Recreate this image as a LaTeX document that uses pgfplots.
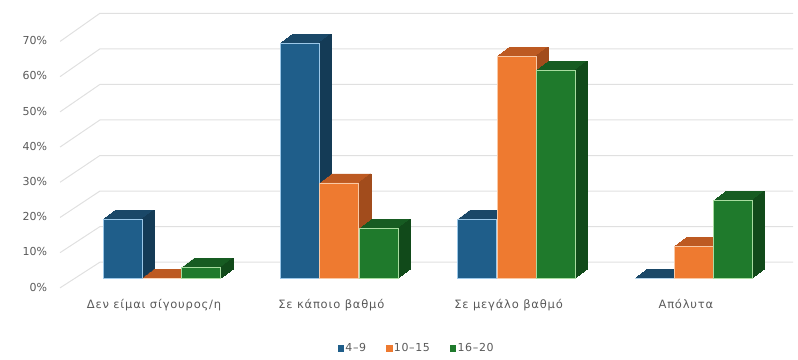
\documentclass[border=0pt]{standalone}
\usepackage{pgfplots}
\pgfplotsset{compat=1.18}
\usepackage{pgfplotstable}
\usepackage{fontspec}
\setmainfont{DejaVu Sans}
\newfontfamily\catfont[LetterSpace=7]{DejaVu Sans}
\newfontfamily\legfont[LetterSpace=6]{DejaVu Sans}
\definecolor{bF}{HTML}{1F5E8A}
\definecolor{bT}{HTML}{1A4868}
\definecolor{bS}{HTML}{143B56}
\definecolor{bE}{HTML}{9CC8E8}
\definecolor{oF}{HTML}{EE7A30}
\definecolor{oT}{HTML}{BD5A22}
\definecolor{oS}{HTML}{A24C1C}
\definecolor{oE}{HTML}{F9C9A6}
\definecolor{gF}{HTML}{1F7A2C}
\definecolor{gT}{HTML}{175C22}
\definecolor{gS}{HTML}{114A1A}
\definecolor{gE}{HTML}{A8DCA0}
\definecolor{gridc}{HTML}{E0E0E0}
\definecolor{txt}{HTML}{595959}

\pgfplotstableread{
x b o g
0 16.7 0 3
1 66.7 27 14
2 16.7 63 59
3 0 9 22
}\data

\begin{document}
\begin{tikzpicture}
\path[use as bounding box] (0,0) rectangle (798pt,359pt);
\begin{axis}[
 at={(55.62pt,70.44pt)}, anchor=south west,
 x=177.3pt, y=3.52pt,
 xmin=-0.6, xmax=3.6, ymin=-3, ymax=76,
 clip=false,
 axis line style={draw=none}, tick style={draw=none},
 xtick={0,1,2,3},
 xticklabels={Δεν είμαι σίγουρος/η, Σε κάποιο βαθμό, Σε μεγάλο βαθμό, Απόλυτα},
 xticklabel style={xshift=-8pt, yshift=-7.5pt, font=\catfont\fontsize{11.5}{13}\selectfont, text=txt},
 ytick={0,10,...,70},
 yticklabels={0\%,10\%,20\%,30\%,40\%,50\%,60\%,70\%},
 yticklabel style={xshift=-5pt, yshift=-9pt, font=\fontsize{11}{12}\selectfont, text=txt},
 legend columns=3,
 legend style={draw=none, fill=none, at={(0.485,-0.2136)}, anchor=center,
   font=\legfont\fontsize{11}{12}\selectfont, text=txt,
   /tikz/every even column/.append style={column sep=18pt}},
]
\pgfplotsinvokeforeach{0,10,...,70}{
 \draw[gridc, line width=1pt]
   (axis cs:-0.575,#1-2.8) -- (axis cs:-0.35,{1.01*#1+4.5}) -- (axis cs:3.56,{1.01*#1+4.5});
}
% ---- blue series 4-9
\pgfplotsinvokeforeach{1,...,12}{
 \addplot[forget plot, ybar, bar width=39pt, bar shift=-39.3pt, fill=bT, draw=bT, line width=0.6pt, xshift=#1pt, yshift={0.75*#1pt}] table[x=x,y=b]{\data};
}
\pgfplotsinvokeforeach{1,...,12}{
 \addplot[forget plot, ybar, bar width=1pt, bar shift=-20.3pt, fill=bS, draw=bS, line width=0.6pt, xshift=#1pt, yshift={0.75*#1pt}] table[x=x,y=b]{\data};
}
\addplot[forget plot, ybar, bar width=39pt, bar shift=-39.3pt, fill=bF, draw=bE, line width=0.8pt] table[x=x,y=b]{\data};
% ---- orange series 10-15
\pgfplotsinvokeforeach{1,...,12}{
 \addplot[forget plot, ybar, bar width=39pt, bar shift=0pt, fill=oT, draw=oT, line width=0.6pt, xshift=#1pt, yshift={0.75*#1pt}] table[x=x,y=o]{\data};
}
\pgfplotsinvokeforeach{1,...,12}{
 \addplot[forget plot, ybar, bar width=1pt, bar shift=19pt, fill=oS, draw=oS, line width=0.6pt, xshift=#1pt, yshift={0.75*#1pt}] table[x=x,y=o]{\data};
}
\addplot[forget plot, ybar, bar width=39pt, bar shift=0pt, fill=oF, draw=oE, line width=0.8pt] table[x=x,y=o]{\data};
% ---- green series 16-20
\pgfplotsinvokeforeach{1,...,12}{
 \addplot[forget plot, ybar, bar width=39pt, bar shift=39.3pt, fill=gT, draw=gT, line width=0.6pt, xshift=#1pt, yshift={0.75*#1pt}] table[x=x,y=g]{\data};
}
\pgfplotsinvokeforeach{1,...,12}{
 \addplot[forget plot, ybar, bar width=1pt, bar shift=58.3pt, fill=gS, draw=gS, line width=0.6pt, xshift=#1pt, yshift={0.75*#1pt}] table[x=x,y=g]{\data};
}
\addplot[forget plot, ybar, bar width=39pt, bar shift=39.3pt, fill=gF, draw=gE, line width=0.8pt] table[x=x,y=g]{\data};
% legend
\addlegendimage{only marks, mark=square*, mark size=2.8pt, mark options={fill=bF, draw=bF}}
\addlegendentry{4–9}
\addlegendimage{only marks, mark=square*, mark size=2.8pt, mark options={fill=oF, draw=oF}}
\addlegendentry{10–15}
\addlegendimage{only marks, mark=square*, mark size=2.8pt, mark options={fill=gF, draw=gF}}
\addlegendentry{16–20}
\end{axis}
\end{tikzpicture}
\end{document}
